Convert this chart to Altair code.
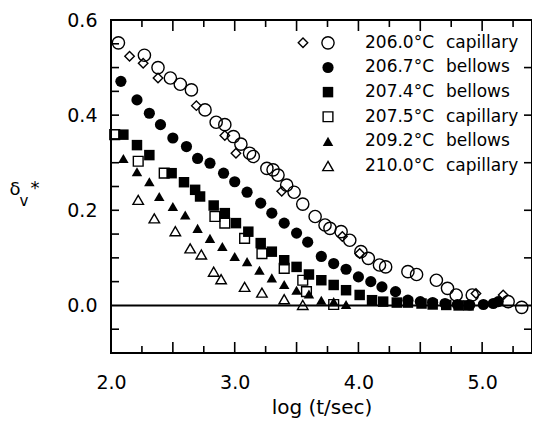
import altair as alt
import pandas as pd

# ---------------- data ----------------
# 206.0 °C capillary (open circles)
oc_x = [2.06, 2.27, 2.38, 2.48, 2.56, 2.65, 2.76, 2.85, 2.92, 2.99, 3.05, 3.12, 3.15, 3.26,
        3.31, 3.35, 3.42, 3.48, 3.55, 3.65, 3.73, 3.77, 3.86, 3.93, 4.02, 4.08, 4.17, 4.22,
        4.40, 4.47, 4.63, 4.72, 4.79, 4.92, 5.21, 5.32]
oc_y = [0.552, 0.526, 0.500, 0.478, 0.465, 0.453, 0.411, 0.385, 0.380, 0.355, 0.339, 0.320,
        0.313, 0.288, 0.285, 0.274, 0.253, 0.238, 0.213, 0.187, 0.169, 0.162, 0.155, 0.137,
        0.113, 0.099, 0.085, 0.081, 0.071, 0.065, 0.053, 0.036, 0.022, 0.022, 0.008, -0.004]
# 206.0 °C capillary, second run (open diamonds)
od_x = [2.15, 2.26, 2.38, 2.69, 2.92, 3.01, 3.38, 3.87, 4.01, 4.95, 5.17]
od_y = [0.524, 0.509, 0.478, 0.420, 0.357, 0.320, 0.240, 0.145, 0.109, 0.025, 0.022]
# 206.7 °C bellows (filled circles)
fc_x = [2.08, 2.21, 2.31, 2.40, 2.50, 2.61, 2.70, 2.80, 2.91, 3.00, 3.10, 3.21, 3.30, 3.40,
        3.50, 3.59, 3.70, 3.80, 3.90, 4.00, 4.10, 4.19, 4.30, 4.40, 4.50, 4.60, 4.70, 4.80,
        4.90, 5.01, 5.09, 5.13]
fc_y = [0.471, 0.432, 0.404, 0.380, 0.352, 0.334, 0.309, 0.299, 0.278, 0.260, 0.238, 0.215,
        0.194, 0.173, 0.152, 0.133, 0.103, 0.088, 0.076, 0.060, 0.050, 0.039, 0.029, 0.011,
        0.008, 0.006, 0.004, 0.002, 0.001, 0.002, 0.004, 0.008]
# 207.4 °C bellows (filled squares)
fs_x = [2.10, 2.21, 2.31, 2.49, 2.59, 2.68, 2.72, 2.83, 2.92, 3.01, 3.11, 3.21, 3.30, 3.40,
        3.50, 3.60, 3.70, 3.80, 3.90, 4.01, 4.11, 4.20, 4.31, 4.40, 4.51, 4.60, 4.71, 4.81, 4.89]
fs_y = [0.359, 0.337, 0.316, 0.278, 0.259, 0.243, 0.229, 0.210, 0.194, 0.173, 0.155, 0.131,
        0.113, 0.095, 0.081, 0.065, 0.053, 0.043, 0.032, 0.022, 0.011, 0.008, 0.006, 0.006,
        0.004, 0.002, 0.001, 0.000, 0.000]
# 207.5 °C capillary (open squares)
os_x = [2.03, 2.22, 2.43, 2.84, 2.92, 3.08, 3.22, 3.40, 3.55, 3.58, 3.80]
os_y = [0.359, 0.303, 0.278, 0.187, 0.173, 0.141, 0.109, 0.078, 0.053, 0.029, 0.002]
# 209.2 °C bellows (filled triangles)
ft_x = [2.10, 2.21, 2.31, 2.39, 2.50, 2.60, 2.70, 2.80, 2.90, 3.00, 3.10, 3.20, 3.30, 3.40,
        3.50, 3.60, 3.70, 3.80, 3.90]
ft_y = [0.309, 0.281, 0.260, 0.229, 0.208, 0.190, 0.162, 0.141, 0.124, 0.103, 0.092, 0.074,
        0.058, 0.044, 0.032, 0.024, 0.011, 0.008, 0.002]
# 210.0 °C capillary (open triangles)
ot_x = [2.22, 2.35, 2.52, 2.64, 2.73, 2.83, 2.89, 3.08, 3.22, 3.40, 3.55]
ot_y = [0.222, 0.183, 0.156, 0.120, 0.107, 0.071, 0.055, 0.039, 0.027, 0.013, 0.001]

legend_temps = ["206.0°C", "206.7°C", "207.4°C", "207.5°C", "209.2°C", "210.0°C"]
legend_types = ["capillary", "bellows", "bellows", "capillary", "bellows", "capillary"]

x_labels = [2.0, 3.0, 4.0, 5.0]
y_labels = [0.0, 0.2, 0.4, 0.6]
x_ticks_major = [2.5, 3.0, 3.5, 4.0, 4.5, 5.0]
x_ticks_minor = [2.25, 2.75, 3.25, 3.75, 4.25, 4.75, 5.25]
y_ticks_left = [-0.05, 0.05, 0.1, 0.15, 0.2, 0.25, 0.3, 0.35, 0.4, 0.45, 0.5, 0.55]
y_ticks_right = [-0.05, 0.1, 0.2, 0.3, 0.4, 0.5]

# ---------------- layout ----------------
W, H = 421, 333
X_DOM = [2.0, 5.403]
Y_DOM = [-0.1, 0.6]
FONT = "DejaVu Sans"
INK = "#000000"
PX_X = (X_DOM[1] - X_DOM[0]) / W   # data units per pixel
PX_Y = (Y_DOM[1] - Y_DOM[0]) / H

xs = alt.Scale(domain=X_DOM, nice=False, zero=False)
ys = alt.Scale(domain=Y_DOM, nice=False, zero=False)

AX_X = alt.Axis(values=x_labels, format=".1f", ticks=False, domain=False, grid=False,
                labelFont=FONT, labelFontSize=19, labelColor=INK, labelPadding=20,
                labelFlush=False, title="log (t/sec)", titleFont=FONT, titleFontSize=20,
                titleFontWeight="normal", titleColor=INK, titlePadding=5)
AX_Y = alt.Axis(values=y_labels, format=".1f", ticks=False, domain=False, grid=False,
                labelFont=FONT, labelFontSize=19, labelColor=INK, labelPadding=14,
                labelFlush=False, title=None)


def X(field="x"):
    return alt.X(f"{field}:Q", scale=xs, axis=AX_X)


def Y(field="y"):
    return alt.Y(f"{field}:Q", scale=ys, axis=AX_Y)


def pts(xv, yv, shape, filled, size):
    df = pd.DataFrame({"x": xv, "y": yv})
    return alt.Chart(df).mark_point(shape=shape, filled=filled, size=size, color=INK,
                                    strokeWidth=1.4, opacity=1).encode(x=X(), y=Y())


layers = []

# zero line
layers.append(alt.Chart(pd.DataFrame({"y": [0.0]})).mark_rule(color=INK, strokeWidth=2)
              .encode(y=Y()))

# data series
series = [
    (oc_x, oc_y, "circle", False, 150),
    (od_x, od_y, "diamond", False, 90),
    (fc_x, fc_y, "circle", True, 125),
    (fs_x, fs_y, "square", True, 110),
    (os_x, os_y, "square", False, 95),
    (ft_x, ft_y, "triangle-up", True, 110),
    (ot_x, ot_y, "triangle-up", False, 110),
]
for sx, sy, shp, fil, sz in series:
    layers.append(pts(sx, sy, shp, fil, sz))

# legend (rows placed in data units, symbol/text columns in pixels)
LEG_Y0, LEG_STEP = 0.552, 0.0518
leg_rows = [LEG_Y0 - i * LEG_STEP for i in range(len(legend_temps))]
leg_shapes = [("circle", False, 150), ("circle", True, 125), ("square", True, 110),
              ("square", False, 95), ("triangle-up", True, 110), ("triangle-up", False, 110)]
for ry, (shp, fil, sz) in zip(leg_rows, leg_shapes):
    layers.append(alt.Chart(pd.DataFrame({"y": [ry]})).mark_point(
        shape=shp, filled=fil, size=sz, color=INK, strokeWidth=1.4, opacity=1)
        .encode(x=alt.value(217), y=Y()))
layers.append(alt.Chart(pd.DataFrame({"y": [leg_rows[0]]})).mark_point(
    shape="diamond", filled=False, size=90, color=INK, strokeWidth=1.4, opacity=1)
    .encode(x=alt.value(192), y=Y()))

leg_df = pd.DataFrame({"y": leg_rows, "temp": legend_temps, "kind": legend_types})
layers.append(alt.Chart(leg_df).mark_text(align="left", baseline="middle", font=FONT,
                                          fontSize=17, color=INK)
              .encode(x=alt.value(254), y=Y(), text="temp:N"))
layers.append(alt.Chart(leg_df).mark_text(align="left", baseline="middle", font=FONT,
                                          fontSize=17, color=INK)
              .encode(x=alt.value(335), y=Y(), text="kind:N"))


# y-axis title: delta with subscript v and superscript *
def label(txt, px, py, size):
    return alt.Chart(pd.DataFrame({"t": [txt]})).mark_text(
        align="center", baseline="alphabetic", font=FONT, fontSize=size, color=INK
    ).encode(x=alt.value(px), y=alt.value(py), text="t:N")


layers += [label("δ", -96, 175, 18), label("v", -87, 186, 15), label("*", -76, 174, 18)]


# inward ticks on all four sides, drawn last, starting just inside the frame
def xticks(vals, y_edge, length_px, direction):
    df = pd.DataFrame({"x": vals,
                       "y": [y_edge + direction * 0.8 * PX_Y] * len(vals),
                       "y2": [y_edge + direction * length_px * PX_Y] * len(vals)})
    return alt.Chart(df).mark_rule(color=INK, strokeWidth=1.6, opacity=1, clip=False).encode(
        x=X(), y=Y(), y2="y2:Q")


def yticks(vals, x_edge, length_px, direction):
    df = pd.DataFrame({"y": vals,
                       "x": [x_edge + direction * 0.8 * PX_X] * len(vals),
                       "x2": [x_edge + direction * length_px * PX_X] * len(vals)})
    return alt.Chart(df).mark_rule(color=INK, strokeWidth=1.6, opacity=1, clip=False).encode(
        y=Y(), x=X(), x2="x2:Q")


layers += [
    xticks(x_ticks_major, Y_DOM[1], 11, -1), xticks(x_ticks_minor, Y_DOM[1], 7, -1),
    xticks(x_ticks_major, Y_DOM[0], 11, 1), xticks(x_ticks_minor, Y_DOM[0], 7, 1),
    yticks(y_ticks_left, X_DOM[0], 8, 1), yticks(y_ticks_right, X_DOM[1], 8, -1),
]

chart = alt.layer(*layers).properties(
    width=W, height=H,
    autosize=alt.AutoSizeParams(type="none"),
    padding={"left": 103, "top": 12, "right": 0, "bottom": 67},
    background="white",
).configure_view(stroke=INK, strokeWidth=2)

chart.save("out.html", embed_options={"renderer": "svg", "actions": False})
